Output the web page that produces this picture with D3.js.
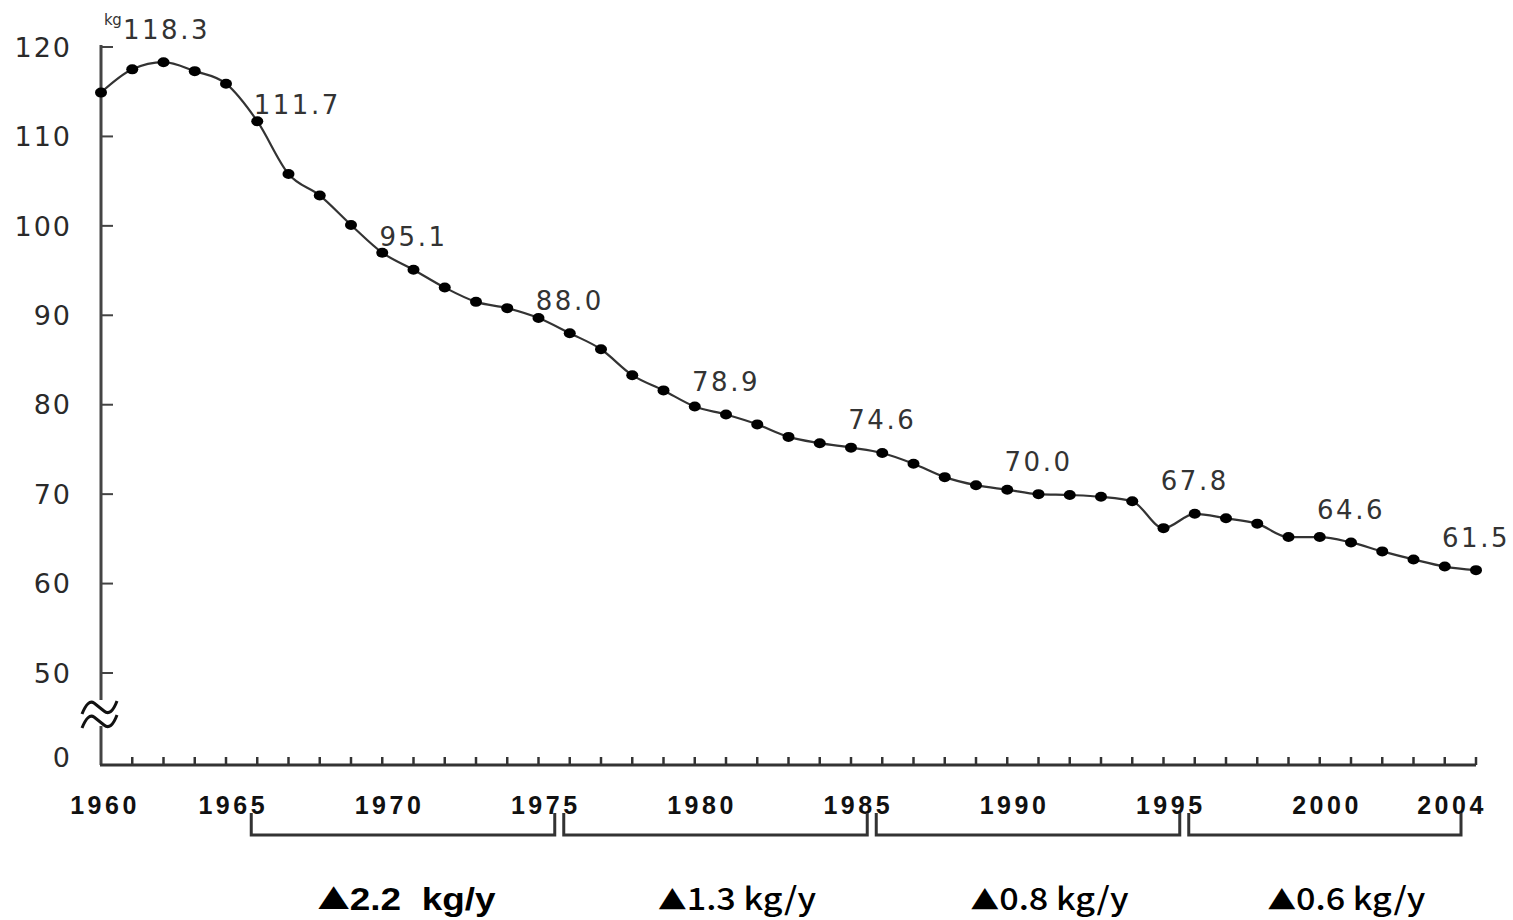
<html>
<head>
    <meta charset="utf-8">
    <script src="https://d3js.org/d3.v7.min.js"></script>
    <style>
        body { margin: 0; background: #fff; }
    </style>
</head>
<body>
    <script>
        // per-capita rice consumption, kg/year
        var years = d3.range(1960, 2005);
        var values = [114.9, 117.5, 118.3, 117.3, 115.9, 111.7, 105.8, 103.4, 100.1, 97.0,
                      95.1, 93.1, 91.5, 90.8, 89.7, 88.0, 86.2, 83.3, 81.6, 79.8,
                      78.9, 77.8, 76.4, 75.7, 75.2, 74.6, 73.4, 71.9, 71.0, 70.5,
                      70.0, 69.9, 69.7, 69.2, 66.2, 67.8, 67.3, 66.7, 65.2, 65.2,
                      64.6, 63.6, 62.7, 61.9, 61.5];
        var labeledYears = [1962, 1965, 1970, 1975, 1980, 1985, 1990, 1995, 2000, 2004];
        var xTickLabels = [1960, 1965, 1970, 1975, 1980, 1985, 1990, 1995, 2000, 2004];
        var yTicks = [0, 50, 60, 70, 80, 90, 100, 110, 120];
        var periods = [[1965, 1975], [1975, 1985], [1985, 1995], [1995, 2004]];
        var rates = ["2.2  kg/y", "1.3 kg/y", "0.8 kg/y", "0.6 kg/y"];

        var width = 1513, height = 920;
        var svg = d3.select("body").append("svg").attr("width", width).attr("height", height);

        var x = d3.scaleLinear().domain([1960, 2004]).range([101, 1476]);
        // broken axis: 0 sits below the 50 tick
        var y = d3.scaleLinear().domain([0, 50, 120]).range([765, 673, 47]);

        // y axis line, split for the break mark
        svg.append("line").attr("x1", x(1960)).attr("x2", x(1960)).attr("y1", y(120) - 2).attr("y2", 700)
            .attr("stroke", "#444").attr("stroke-width", 3);
        svg.append("line").attr("x1", x(1960)).attr("x2", x(1960)).attr("y1", 726).attr("y2", y(0))
            .attr("stroke", "#444").attr("stroke-width", 3);

        // break mark (two waves)
        [0, 14].forEach(function(off) {
            svg.append("path")
                .attr("d", "M82," + (714 + off) + " Q88," + (699 + off) + " 94," + (703 + off) +
                    " L104," + (711 + off) + " Q111," + (717 + off) + " 117," + (701 + off))
                .attr("fill", "none").attr("stroke", "#111").attr("stroke-width", 3);
        });

        // y ticks and labels
        svg.selectAll(".ytick").data(yTicks.filter(function(d) { return d > 0; })).enter().append("line")
            .attr("x1", x(1960)).attr("x2", x(1960) + 12)
            .attr("y1", function(d) { return y(d); }).attr("y2", function(d) { return y(d); })
            .attr("stroke", "#444").attr("stroke-width", 2);
        svg.selectAll(".ylab").data(yTicks).enter().append("text")
            .text(function(d) { return d; })
            .attr("x", 72)
            .attr("y", function(d) { return d === 0 ? y(d) - 8 : y(d); })
            .attr("dy", "0.36em")
            .attr("text-anchor", "end")
            .attr("font-family", "DejaVu Sans")
            .attr("font-size", "27px")
            .attr("letter-spacing", "2px")
            .attr("fill", "#2a2a2a");

        svg.append("text").text("kg")
            .attr("x", 104).attr("y", 25)
            .attr("font-family", "DejaVu Sans").attr("font-size", "15px")
            .attr("letter-spacing", "-0.5px").attr("fill", "#333");

        // x axis line and yearly ticks
        svg.append("line").attr("x1", x(1960) - 1).attr("x2", x(2004)).attr("y1", y(0)).attr("y2", y(0))
            .attr("stroke", "#333").attr("stroke-width", 3);
        svg.selectAll(".xtick").data(years.slice(1)).enter().append("line")
            .attr("x1", function(d) { return x(d); }).attr("x2", function(d) { return x(d); })
            .attr("y1", y(0)).attr("y2", y(0) - 8)
            .attr("stroke", "#333").attr("stroke-width", 2.5);

        svg.selectAll(".xlab").data(xTickLabels).enter().append("text")
            .text(function(d) { return d; })
            .attr("x", function(d) { return d === 1960 ? x(d) + 4 : x(d) - 24; })
            .attr("y", 814)
            .attr("text-anchor", "middle")
            .attr("font-family", "Liberation Sans")
            .attr("font-weight", "bold")
            .attr("font-size", "25px")
            .attr("letter-spacing", "3.5px")
            .attr("fill", "#111");

        // data line
        var line = d3.line()
            .x(function(d, i) { return x(years[i]); })
            .y(function(d) { return y(d); })
            .curve(d3.curveMonotoneX);
        svg.append("path").datum(values).attr("d", line)
            .attr("fill", "none").attr("stroke", "#333").attr("stroke-width", 2.2);

        svg.selectAll(".dot").data(values).enter().append("ellipse")
            .attr("cx", function(d, i) { return x(years[i]); })
            .attr("cy", function(d) { return y(d); })
            .attr("rx", 6).attr("ry", 5)
            .attr("fill", "#000");

        // value labels
        svg.selectAll(".vlab").data(labeledYears).enter().append("text")
            .text(function(d) { return values[years.indexOf(d)].toFixed(1); })
            .attr("x", function(d) {
                if (d === 1965) return x(d) + 40;
                if (d === 1962) return x(d) + 3;
                return x(d);
            })
            .attr("y", function(d) {
                var v = values[years.indexOf(d)];
                return d === 1965 ? y(v) - 17 : y(v) - 33;
            })
            .attr("dy", "0.36em")
            .attr("text-anchor", "middle")
            .attr("font-family", "DejaVu Sans")
            .attr("font-size", "26px")
            .attr("letter-spacing", "2.5px")
            .attr("fill", "#333");

        // period brackets
        svg.selectAll(".bracket").data(periods).enter().append("path")
            .attr("d", function(d) {
                var a = x(d[0]) - 6, b = x(d[1]) - 15;
                return "M" + a + ",813 V835 H" + b + " V813";
            })
            .attr("fill", "none").attr("stroke", "#333").attr("stroke-width", 3);

        var rateText = svg.selectAll(".rate").data(rates).enter().append("text")
            .attr("x", function(d, i) {
                var p = periods[i];
                return (x(p[0]) + x(p[1])) / 2 - 9 + (i === 0 ? 2 : 20);
            })
            .attr("y", 910)
            .attr("text-anchor", "middle")
            .style("white-space", "pre")
            .attr("font-size", "30px")
            .attr("textLength", function(d, i) { return i === 0 ? 178 : 158; })
            .attr("lengthAdjust", "spacingAndGlyphs")
            .attr("fill", "#000");
        rateText.append("tspan")
            .attr("font-family", "Noto Sans CJK JP")
            .attr("font-size", function(d, i) { return i === 0 ? "28px" : "26px"; })
            .text("▲");
        rateText.append("tspan")
            .attr("font-family", function(d, i) { return i === 0 ? "Liberation Sans" : "Noto Sans CJK JP"; })
            .attr("font-weight", function(d, i) { return i === 0 ? "bold" : "500"; })
            .attr("font-size", function(d, i) { return i === 0 ? "32px" : "31px"; })
            .text(function(d) { return d; });
    </script>
</body>
</html>
